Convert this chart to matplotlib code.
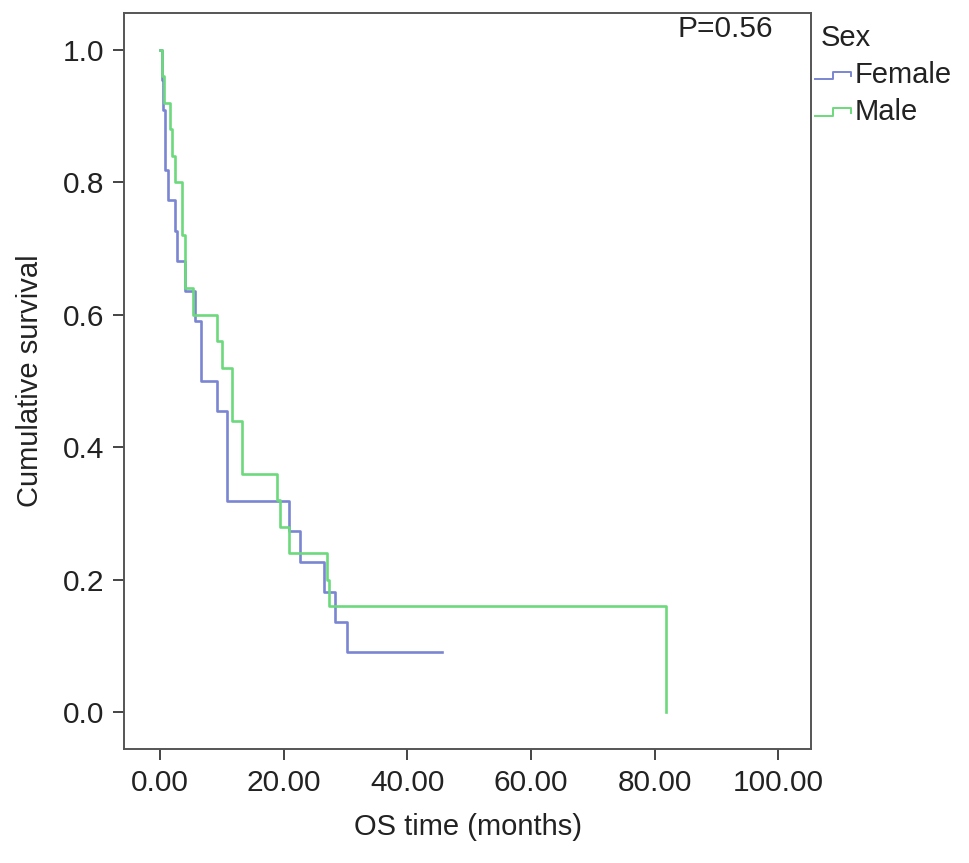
import matplotlib
matplotlib.use("Agg")
import matplotlib.pyplot as plt
from matplotlib.legend_handler import HandlerBase
from matplotlib.lines import Line2D
from matplotlib.ticker import FormatStrFormatter

plt.rcParams['font.family'] = ['Liberation Sans', 'DejaVu Sans']

# Female (n=22): time of each drop and survival after it
female_t = [0.0, 0.3, 0.5, 0.8, 1.35, 2.4, 2.7, 4.0, 5.7, 6.7, 9.3, 10.8, 20.8, 22.7, 26.5, 28.3, 30.3]
female_s = [1.0, 0.955, 0.909, 0.818, 0.773, 0.727, 0.682, 0.636, 0.591, 0.500, 0.455, 0.318, 0.273, 0.227, 0.182, 0.136, 0.091]
female_end_t = 45.6   # last follow-up (censored)

# Male (n=25)
male_t = [0.0, 0.4, 0.7, 1.7, 2.0, 2.4, 3.5, 4.0, 5.4, 9.2, 10.1, 11.6, 13.2, 18.9, 19.4, 20.9, 27.0, 27.3, 81.8]
male_s = [1.0, 0.96, 0.92, 0.88, 0.84, 0.80, 0.72, 0.64, 0.60, 0.56, 0.52, 0.44, 0.36, 0.32, 0.28, 0.24, 0.20, 0.16, 0.0]

groups = ["Female", "Male"]
colors = {"Female": "#7b86d3", "Male": "#6cd97c"}
x_ticks = [0, 20, 40, 60, 80, 100]
y_ticks = [0.0, 0.2, 0.4, 0.6, 0.8, 1.0]

fig = plt.figure(figsize=(9.69, 8.63), dpi=100)
ax = fig.add_axes([0.128, 0.132, 0.709, 0.853])


def step_path(times, surv, end_t=None):
    xs, ys = [], []
    for i, (t, s) in enumerate(zip(times, surv)):
        if i > 0:
            xs.append(t)
            ys.append(surv[i - 1])
        xs.append(t)
        ys.append(s)
    if end_t is not None:
        xs.append(end_t)
        ys.append(surv[-1])
    return xs, ys


fx, fy = step_path(female_t, female_s, female_end_t)
mx, my = step_path(male_t, male_s)
ax.plot(fx, fy, color=colors["Female"], lw=1.9, label="Female")
ax.plot(mx, my, color=colors["Male"], lw=1.9, label="Male")

ax.set_xlim(-5.8, 105.3)
ax.set_ylim(-0.056, 1.056)
ax.set_xticks(x_ticks)
ax.set_yticks(y_ticks)
ax.xaxis.set_major_formatter(FormatStrFormatter('%.2f'))
ax.yaxis.set_major_formatter(FormatStrFormatter('%.1f'))
ax.tick_params(direction='out', length=8, width=1.4, color='#444444',
               labelsize=21.5, labelcolor='#222222', pad=6)
for sp in ax.spines.values():
    sp.set_color('#555555')
    sp.set_linewidth(1.4)

ax.set_xlabel("OS time (months)", fontsize=21, color='#222222', labelpad=12)
ax.set_ylabel("Cumulative survival", fontsize=21, color='#222222', labelpad=14)

ax.text(0.875, 0.978, "P=0.56", transform=ax.transAxes, fontsize=21.5,
        color='#222222', ha='center', va='center')


class StepHandler(HandlerBase):
    def create_artists(self, legend, orig_handle, xdescent, ydescent,
                       width, height, fontsize, trans):
        x0 = -xdescent
        y0 = -ydescent + height * 0.2
        y1 = -ydescent + height * 0.55
        xs = [x0, x0 + width * 0.5, x0 + width * 0.5, x0 + width, x0 + width]
        ys = [y0, y0, y1, y1, y0 + (y1 - y0) * 0.4]
        ln = Line2D(xs, ys, color=orig_handle.get_color(), lw=1.4, transform=trans)
        return [ln]


handles = ax.get_lines()
leg = fig.legend(handles, groups, title="Sex", loc='upper left',
                 bbox_to_anchor=(0.841, 0.972), frameon=False, fontsize=21,
                 title_fontsize=21, handlelength=1.25, handletextpad=0.1,
                 labelspacing=0.3, borderaxespad=0.0, borderpad=0.0,
                 handler_map={Line2D: StepHandler()})
leg._legend_box.align = "left"
for t in leg.get_texts():
    t.set_color('#222222')
leg.get_title().set_color('#222222')
leg.get_title().set_position((6, 0))

fig.savefig("out.png", dpi=100)
